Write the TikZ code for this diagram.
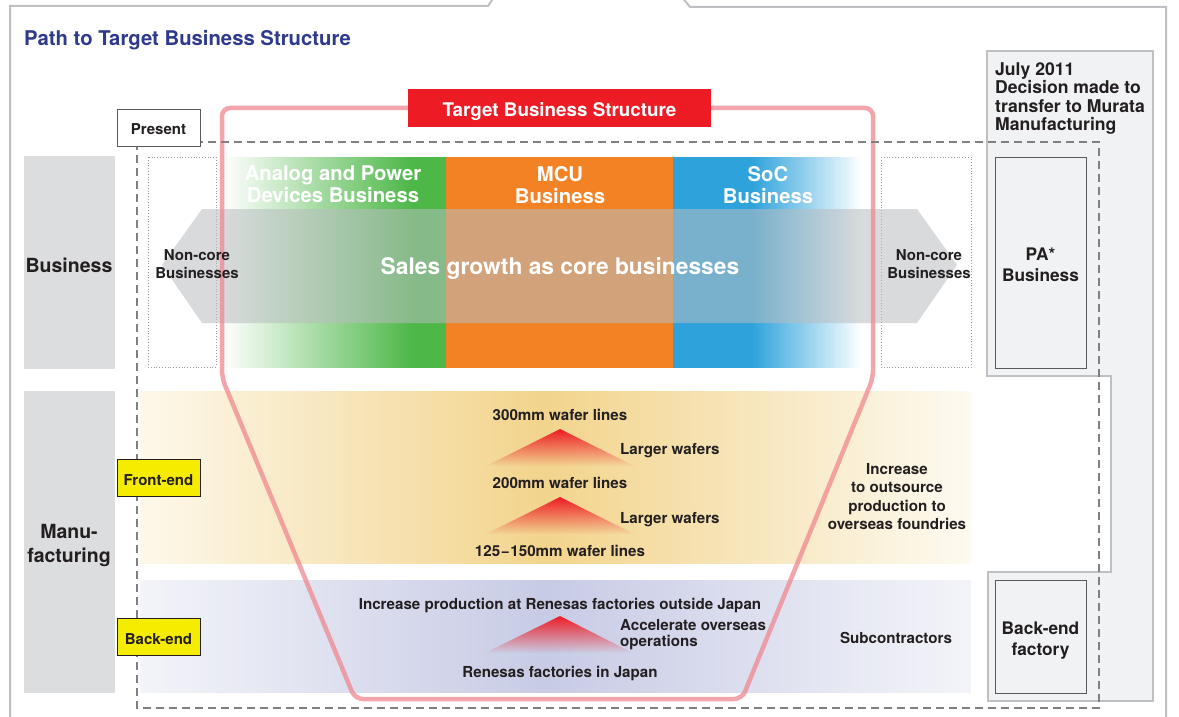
\documentclass[tikz,border=0pt]{standalone}
\usepackage{fontspec}
\setmainfont{TeX Gyre Heros}
\usetikzlibrary{fadings}
\definecolor{framegray}{HTML}{BFC0C3}
\definecolor{titleblue}{HTML}{2E3A8C}
\definecolor{labelgray}{HTML}{DCDDDF}
\definecolor{txt}{HTML}{231F20}
\definecolor{bgreen}{HTML}{4DB748}
\definecolor{borange}{HTML}{F38225}
\definecolor{bblue}{HTML}{2EA2DB}
\definecolor{tred}{HTML}{ED1C24}
\definecolor{pinkline}{HTML}{F08890}
\definecolor{panel}{HTML}{F1F2F4}
\definecolor{feA}{HTML}{FDF8EB}
\definecolor{feB}{HTML}{F2D48C}
\definecolor{feC}{HTML}{FDFAF1}
\definecolor{beA}{HTML}{F3F4F9}
\definecolor{beB}{HTML}{C7CBE5}
\definecolor{yel}{HTML}{F5EC00}
\definecolor{arrowgray}{HTML}{B8BDC0}
\definecolor{dashgray}{HTML}{808080}
\definecolor{dotgray}{HTML}{9A9A9A}
\definecolor{boxgray}{HTML}{58595B}
\tikzfading[name=fadedown, top color=transparent!0, bottom color=transparent!100]
\begin{document}
\begin{tikzpicture}[x=1pt,y=-1pt,
  framest/.style={draw=framegray, line width=2pt},
  body/.style={text=txt, font=\fontsize{15.15}{18.5}\selectfont\bfseries, inner sep=0pt, align=center},
  bandtxt/.style={text=white, font=\fontsize{20.3}{22}\selectfont\bfseries, inner sep=0pt, align=center},
  sidetxt/.style={text=txt, font=\fontsize{19.5}{24}\selectfont\bfseries, inner sep=0pt, align=center},
  paneltxt/.style={text=txt, font=\fontsize{17.3}{21}\selectfont\bfseries, inner sep=0pt, align=center},
  tagbox/.style={draw=txt, line width=0.8pt, fill=yel, inner sep=0pt, minimum width=83pt, minimum height=37pt},
  boxst/.style={draw=boxgray, line width=0.9pt, fill=panel, inner sep=0pt, minimum width=91pt},
  dotbox/.style={draw=dotgray, dotted, line width=0.8pt},
  tri/.style={fill=tred, path fading=fadedown}
]
\useasboundingbox (0,0) rectangle (1179,717);
\fill[white] (0,0) rectangle (1179,717);

% outer frame
\draw[framest] (10,720) -- (10,6) -- (488,6) -- (494,-3);
\draw[framest] (682,-3) -- (690,7) -- (1166,7) -- (1166,720);

% title
\node[anchor=base west, text=titleblue, font=\fontsize{20.3}{23}\selectfont\bfseries, inner sep=0pt] (title) at (24,46) {Path to Target Business Structure};

% right panel
\draw[draw=framegray, line width=2.5pt, fill=panel] (987,51) -- (1153,51) -- (1153,701) -- (988,701) -- (988,572) -- (1111,572) -- (1111,376) -- (987,376) -- cycle;

% side labels
\fill[labelgray] (24,156) rectangle (115,369);
\fill[labelgray] (24,391) rectangle (115,693);

% dotted non-core boxes
\draw[dotbox] (148,157) rectangle (216,367);
\draw[dotbox] (881,157) rectangle (971,367);

% business bands (stepwise gradients)
\foreach \i in {0,...,95} {
  \pgfmathsetmacro\p{100*\i/95}
  \fill[bgreen!\p!white] (222+2*\i,157) rectangle (224.7+2*\i,368);
}
\fill[bgreen] (412,157) rectangle (446,368);
\fill[borange] (446,157) rectangle (673,368);
\fill[bblue] (673,157) rectangle (752,368);
\foreach \i in {0,...,55} {
  \pgfmathsetmacro\p{100-100*\i/55}
  \fill[bblue!\p!white] (751+2*\i,157) rectangle (753.7+2*\i,368);
}

% manufacturing bands (stepwise gradients)
\foreach \i in {0,...,134} {
  \pgfmathsetmacro\p{100*\i/134}
  \fill[feB!\p!feA] (140+3*\i,391) rectangle (143.7+3*\i,564);
  \fill[beB!\p!beA] (140+3*\i,580) rectangle (143.7+3*\i,693);
}
\foreach \i in {0,...,141} {
  \pgfmathsetmacro\p{100-100*\i/141}
  \fill[feB!\p!feC] (545+3*\i,391) rectangle (548.2+3*\i,564);
  \fill[beB!\p!beA] (545+3*\i,580) rectangle (548.2+3*\i,693);
}

% triangles
\fill[tri] (560,429) -- (634,466) -- (486,466) -- cycle;
\fill[tri] (560,497) -- (634,534) -- (486,534) -- cycle;
\fill[tri] (560,616) -- (633,653) -- (485,653) -- cycle;

% gray double arrow
\fill[arrowgray, opacity=0.55] (162,265) -- (202,209) -- (917,209) -- (957,265) -- (917,323) -- (202,323) -- cycle;

% pink target outline
\draw[pinkline, line width=4.5pt, draw opacity=0.75, rounded corners=8pt]
  (222,250) -- (222,108) -- (873,108) -- (873,378) -- (742,699) -- (355,699) -- (222,378) -- cycle;

% dashed present frame
\draw[dashgray, line width=1.2pt, dash pattern=on 8pt off 5pt] (137,142) rectangle (1099,708);

% boxes
\node[draw=boxgray, line width=0.9pt, fill=white, minimum width=83pt, minimum height=37pt, inner sep=0pt] (presentbox) at (158.5,127.5) {};
\node[fill=tred, minimum width=303pt, minimum height=38pt, inner sep=0pt] (targetbox) at (559.5,108) {};
\node[tagbox] (frontbox) at (158.5,478) {};
\node[tagbox] (backbox) at (158.5,636.5) {};
\node[boxst, minimum height=211pt] (pabox) at (1040.5,262.5) {};
\node[boxst, minimum height=113pt] (befbox) at (1040.5,636.5) {};

% texts
\node[anchor=base, text=txt, font=\fontsize{15}{17}\selectfont\bfseries, inner sep=0pt] (present) at (158.5,135) {Present};
\node[anchor=base, text=white, font=\fontsize{18.8}{22}\selectfont\bfseries, inner sep=0pt] (target) at (559.5,117) {Target Business Structure};
\node[anchor=base, sidetxt] (business) at (69,272) {Business};
\node[anchor=north, sidetxt] (manu) at (69,524) {Manu-\\facturing};

\node[anchor=north, bandtxt] (analog) at (333,166) {Analog and Power\\Devices Business};
\node[anchor=north, bandtxt] (mcu) at (560,166) {MCU\\Business};
\node[anchor=north, bandtxt] (soc) at (768,166) {SoC\\Business};
\node[anchor=base, text=white, font=\fontsize{22.8}{26}\selectfont\bfseries, inner sep=0pt] (sales) at (560,274) {Sales growth as core businesses};

\node[anchor=north, body, font=\fontsize{15}{18.5}\selectfont\bfseries] (ncl) at (197,249) {Non-core\\Businesses};
\node[anchor=north, body, font=\fontsize{15}{18.5}\selectfont\bfseries] (ncr) at (929,249) {Non-core\\Businesses};

\node[anchor=north west, text=txt, font=\fontsize{17.6}{18.5}\selectfont\bfseries, inner sep=0pt, align=left] (july) at (995,62) {July 2011\\Decision made to\\transfer to Murata\\Manufacturing};
\node[anchor=north, paneltxt] (pa) at (1040.5,248) {PA*\\Business};
\node[anchor=north, paneltxt] (bef) at (1040.5,622) {Back-end\\factory};

\node[anchor=base, body, font=\fontsize{15}{18}\selectfont\bfseries] (front) at (158.5,485) {Front-end};
\node[anchor=base, body, font=\fontsize{15}{18}\selectfont\bfseries] (back) at (158.5,644) {Back-end};

\node[anchor=base, body] (w300) at (560,420) {300mm wafer lines};
\node[anchor=base west, body] (lw1) at (620,454) {Larger wafers};
\node[anchor=base, body] (w200) at (560,488) {200mm wafer lines};
\node[anchor=base west, body] (lw2) at (620,523) {Larger wafers};
\node[anchor=base, body] (w125) at (560,556) {125\kern0.7pt−\kern0.7pt150mm wafer lines};
\node[anchor=north, body] (outsrc) at (897,463) {Increase\\to outsource\\production to\\overseas foundries};

\node[anchor=base, body] (incprod) at (560,609) {Increase production at Renesas factories outside Japan};
\node[anchor=north west, body, align=left, font=\fontsize{15.15}{16}\selectfont\bfseries] (accel) at (620,619) {Accelerate overseas\\operations};
\node[anchor=base, body] (japan) at (560,677) {Renesas factories in Japan};
\node[anchor=base, body] (subc) at (896,643) {Subcontractors};
\end{tikzpicture}
\end{document}
